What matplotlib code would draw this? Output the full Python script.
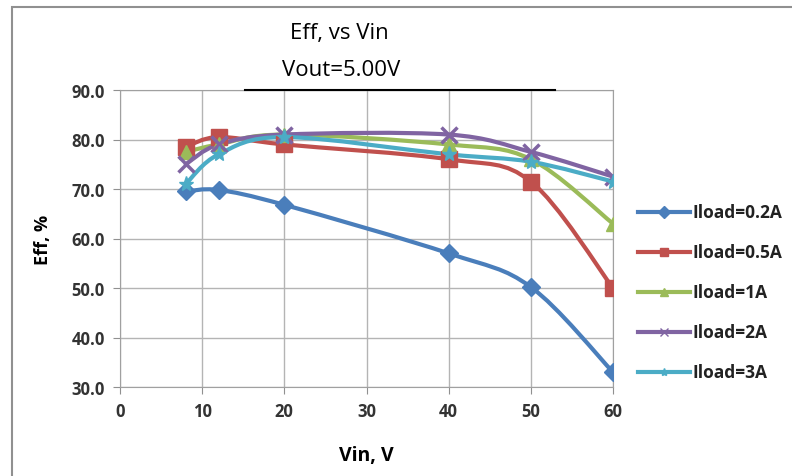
import numpy as np
import matplotlib
matplotlib.use('Agg')
import matplotlib.pyplot as plt
from matplotlib.path import Path
from matplotlib.patches import PathPatch, Rectangle
from matplotlib.lines import Line2D

vin = [8, 12, 20, 40, 50, 60]
eff_02 = [69.5, 69.8, 66.8, 57.0, 50.2, 33.0]
eff_05 = [78.5, 80.5, 79.0, 76.0, 71.5, 50.0]
eff_1 = [77.5, 79.0, 81.0, 79.0, 76.0, 63.0]
eff_2 = [75.0, 79.0, 81.0, 81.0, 77.5, 72.5]
eff_3 = [71.0, 77.0, 80.5, 77.0, 75.5, 71.5]
labels = ['Iload=0.2A', 'Iload=0.5A', 'Iload=1A', 'Iload=2A', 'Iload=3A']
colors = ['#4a7ebb', '#c0504d', '#9bbb59', '#8064a2', '#4bacc6']
markers = ['D', 's', '^', 'x', '*']
msizes = [9, 12, 10, 11, 11]
series = [eff_02, eff_05, eff_1, eff_2, eff_3]

plt.rcParams['font.family'] = ['Open Sans', 'DejaVu Sans']


def smooth_path(x, y):
    # catmull-rom style bezier, like the excel "smoothed line"
    p = np.column_stack([x, y]).astype(float)
    n = len(p)
    verts = [p[0]]
    codes = [Path.MOVETO]
    for i in range(n - 1):
        p0 = p[i - 1] if i > 0 else p[i]
        p3 = p[i + 2] if i + 2 < n else p[i + 1]
        c1 = p[i] + (p[i + 1] - p0) / 6.0
        c2 = p[i + 1] - (p3 - p[i]) / 6.0
        verts += [c1, c2, p[i + 1]]
        codes += [Path.CURVE4] * 3
    return Path(verts, codes)


W, H = 792, 477
fig = plt.figure(figsize=(W / 100, H / 100), dpi=100)
ax = fig.add_axes([120 / W, 1 - 388 / H, 493 / W, 297 / H])

for y, c, m, ms in zip(series, colors, markers, msizes):
    ax.add_patch(PathPatch(smooth_path(vin, y), fill=False, edgecolor=c,
                           lw=3, zorder=3, capstyle='round'))
    ax.plot(vin, y, linestyle='none', marker=m, markersize=ms, color=c,
            markeredgecolor=c, markeredgewidth=2.5 if m == 'x' else 1, zorder=4)

ax.set_xlim(0, 60)
ax.set_ylim(30, 90)
ax.set_xticks(range(0, 61, 10))
ax.set_yticks(range(30, 91, 10))
ax.set_yticklabels(['%.1f' % v for v in range(30, 91, 10)])
ax.grid(True, color='#b4b4b4', lw=1)
ax.set_axisbelow(True)
for s in ax.spines.values():
    s.set_color('#a0a0a0')
ax.tick_params(direction='out', length=5, color='#909090', labelsize=12,
               labelcolor='#333333', pad=6)
for t in ax.get_xticklabels() + ax.get_yticklabels():
    t.set_fontweight('bold')
ax.set_xlabel('Vin, V', fontsize=14, fontweight='bold', labelpad=18)
ax.set_ylabel('Eff, %', fontsize=13, fontweight='bold', labelpad=14)

# legend built by hand so the rows sit where the original has them
for i, (c, m, lab) in enumerate(zip(colors, markers, labels)):
    yy = 1 - (213 + 40 * i) / H
    fig.add_artist(Line2D([638 / W, 690 / W], [yy, yy], color=c, lw=3))
    fig.add_artist(Line2D([664 / W], [yy], color=c, marker=m, markersize=6))
    fig.text(692 / W, yy, lab, ha='left', va='center', fontsize=12.5,
             fontweight='bold', color='#222222')

fig.text(339 / W, 1 - 33 / H, 'Eff, vs Vin', ha='center', va='center', fontsize=16)
fig.text(341 / W, 1 - 70 / H, 'Vout=5.00V', ha='center', va='center', fontsize=16)
fig.add_artist(Line2D([245 / W, 555 / W], [1 - 91 / H, 1 - 91 / H],
                      color='black', lw=1.5))
fig.add_artist(Rectangle((12 / W, -0.1), 1.2, 1 - 8 / H + 0.1, fill=False,
                         edgecolor='#909090', lw=1.5))

plt.savefig('out.png', dpi=100)
